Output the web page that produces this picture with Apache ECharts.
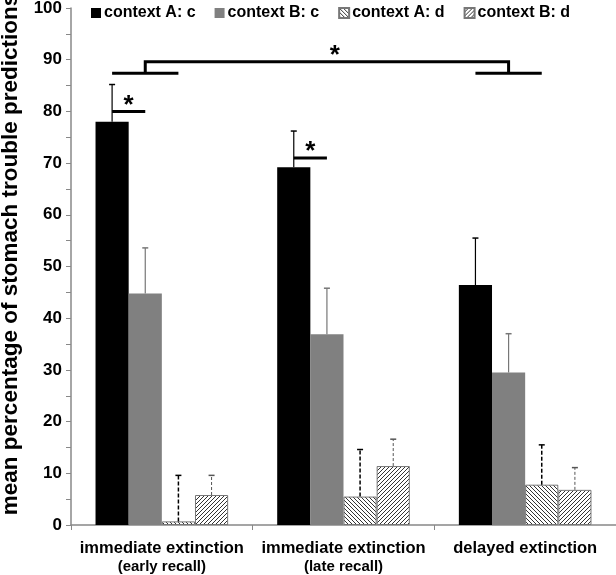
<!DOCTYPE html>
<html>
<head>
<meta charset="UTF-8">
<title>stomach trouble predictions</title>
<script src="https://cdn.jsdelivr.net/npm/echarts@6/dist/echarts.min.js"></script>
<style>
  html, body { margin: 0; padding: 0; background: #fff; }
  #main { width: 616px; height: 575px; }
</style>
</head>
<body>
<div id="main"></div>
<script type="text/javascript">
// --- data ---
var categories = ['immediate extinction', 'immediate extinction', 'delayed extinction'];
var subLabels = ['(early recall)', '(late recall)', ''];
var seriesNames = ['context A: c', 'context B: c', 'context A: d', 'context B: d'];
var meanAc = [78, 69.2, 46.4];
var meanBc = [44.8, 36.9, 29.5];
var meanAd = [0.7, 5.5, 7.8];
var meanBd = [5.8, 11.4, 6.8];
var topAc = [85.2, 76.2, 55.5];
var topBc = [53.6, 45.8, 37];
var topAd = [9.6, 14.6, 15.5];
var topBd = [9.6, 16.6, 11.1];
var yTicks = [0, 100, 10];
// significance: [category, value of line]
var pairSig = [[0, 80], [1, 71]];
// big bracket: [leftCat, rightCat, lowValue, topValue]
var bigSig = [0, 2, 87.4, 89.6];

var BAR_GAP = 0.27;

function hatch(dir) {
  var s = 4;
  var c = document.createElement('canvas');
  c.width = s; c.height = s;
  var ctx = c.getContext('2d');
  ctx.fillStyle = '#fff';
  ctx.fillRect(0, 0, s, s);
  ctx.strokeStyle = '#333';
  ctx.lineWidth = 1;
  ctx.beginPath();
  if (dir === 'back') {
    ctx.moveTo(-1, -1); ctx.lineTo(s + 1, s + 1);
    ctx.moveTo(-1, s - 1); ctx.lineTo(1, s + 1);
    ctx.moveTo(s - 1, -1); ctx.lineTo(s + 1, 1);
  } else {
    ctx.moveTo(-1, s + 1); ctx.lineTo(s + 1, -1);
    ctx.moveTo(-1, 1); ctx.lineTo(1, -1);
    ctx.moveTo(s - 1, s + 1); ctx.lineTo(s + 1, s - 1);
  }
  ctx.stroke();
  return { image: c, repeat: 'repeat' };
}

var means = [meanAc, meanBc, meanAd, meanBd];
var tops = [topAc, topBc, topAd, topBd];
var errData = [];
for (var s = 0; s < 4; s++) {
  for (var i = 0; i < categories.length; i++) {
    errData.push([i, s, means[s][i], tops[s][i]]);
  }
}
var errStyle = [
  { stroke: '#000', lineWidth: 1.2, lineDash: null },
  { stroke: '#777', lineWidth: 1.2, lineDash: null },
  { stroke: '#000', lineWidth: 1.5, lineDash: [4, 2] },
  { stroke: '#555', lineWidth: 1, lineDash: [3, 2] }
];

function barX(api, cat, idx) {
  var band = api.size([1, 0])[0];
  var bw = band * (1 - BAR_GAP) / 4;
  return api.coord([cat, 0])[0] + (idx - 1.5) * bw;
}

var starStyle = function (x, y) {
  return { type: 'text', x: x, y: y,
    style: { text: '*', fontSize: 26, fontWeight: 'bold', fill: '#000',
             align: 'center', verticalAlign: 'bottom',
             fontFamily: 'Liberation Sans, Arial, sans-serif' } };
};

var chart = echarts.init(document.getElementById('main'));
var fills = ['#000', '#808080', hatch('back'), hatch('fwd')];
var barSeries = seriesNames.map(function (n, k) {
  return {
    name: n,
    type: 'bar',
    data: means[k],
    barGap: '0%',
    barCategoryGap: (BAR_GAP * 100) + '%',
    itemStyle: {
      color: fills[k],
      borderColor: k > 1 ? '#777' : fills[k],
      borderWidth: k > 1 ? 1 : 0
    },
    z: 2
  };
});

var option = {
  animation: false,
  textStyle: { fontFamily: 'Liberation Sans, Arial, sans-serif' },
  legend: {
    data: seriesNames,
    left: 86,
    top: 0,
    itemGap: 19,
    itemWidth: 10,
    itemHeight: 10,
    icon: 'rect',
    textStyle: { fontSize: 16, fontWeight: 'bold', color: '#000', padding: [0, 0, 0, -2] }
  },
  grid: { left: 71, right: 0, top: 8, bottom: 50, outerBoundsMode: 'none' },
  xAxis: {
    type: 'category',
    data: categories,
    axisLine: { lineStyle: { color: '#888', width: 1.5 } },
    axisTick: { show: true, length: 5, lineStyle: { color: '#888' } },
    axisLabel: {
      margin: 13,
      formatter: function (v, idx) {
        return subLabels[idx] ? '{a|' + v + '}\n{b|' + subLabels[idx] + '}' : '{a|' + v + '}';
      },
      rich: {
        a: { fontSize: 16.5, fontWeight: 'bold', color: '#000', lineHeight: 20 },
        b: { fontSize: 15, fontWeight: 'bold', color: '#000', lineHeight: 18 }
      }
    }
  },
  yAxis: {
    type: 'value',
    min: yTicks[0],
    max: yTicks[1],
    interval: yTicks[2],
    name: 'mean percentage of stomach trouble predictions',
    nameLocation: 'middle',
    nameGap: 46,
    nameTextStyle: { fontSize: 22.5, fontWeight: 'bold', color: '#000', padding: [0, 0, 0, 24] },
    axisLine: { show: true, lineStyle: { color: '#888', width: 1.5 } },
    axisTick: { show: true, length: 5, lineStyle: { color: '#888' } },
    minorTick: { show: true, splitNumber: 2, length: 5, lineStyle: { color: '#888' } },
    splitLine: { show: false },
    axisLabel: { fontSize: 17, fontWeight: 'bold', color: '#000', margin: 9 }
  },
  series: barSeries.concat([
    {
      type: 'custom',
      name: 'errors',
      data: errData,
      encode: { x: 0, y: 3 },
      z: 5,
      renderItem: function (params, api) {
        var cat = api.value(0), k = api.value(1);
        var x = barX(api, cat, k);
        var y0 = api.coord([cat, api.value(2)])[1];
        var y1 = api.coord([cat, api.value(3)])[1];
        var st = errStyle[k];
        return {
          type: 'group',
          children: [
            { type: 'line', shape: { x1: x, y1: y0, x2: x, y2: y1 },
              style: { stroke: st.stroke, lineWidth: st.lineWidth, lineDash: st.lineDash } },
            { type: 'line', shape: { x1: x - 3, y1: y1, x2: x + 3, y2: y1 },
              style: { stroke: st.stroke, lineWidth: 1.5 } }
          ]
        };
      }
    },
    {
      type: 'custom',
      name: 'pairs',
      data: pairSig,
      encode: { x: 0, y: 1 },
      z: 6,
      renderItem: function (params, api) {
        var cat = api.value(0);
        var xa = barX(api, cat, 0), xb = barX(api, cat, 1);
        var y = api.coord([cat, api.value(1)])[1];
        return {
          type: 'group',
          children: [
            { type: 'line', shape: { x1: xa, y1: y, x2: xb, y2: y },
              style: { stroke: '#000', lineWidth: 3 } },
            starStyle((xa + xb) / 2, y + 7)
          ]
        };
      }
    },
    {
      type: 'custom',
      name: 'bracket',
      data: [bigSig],
      encode: { x: 0, y: 3 },
      z: 6,
      renderItem: function (params, api) {
        var c0 = api.value(0), c1 = api.value(1);
        var yl = api.coord([c0, api.value(2)])[1];
        var yt = api.coord([c0, api.value(3)])[1];
        var l0 = barX(api, c0, 0), l1 = barX(api, c0, 1), l2 = barX(api, c0, 2);
        var r0 = barX(api, c1, 0), r1 = barX(api, c1, 1), r2 = barX(api, c1, 2);
        var st = { stroke: '#000', lineWidth: 3 };
        return {
          type: 'group',
          children: [
            { type: 'line', shape: { x1: l0, y1: yl, x2: l2, y2: yl }, style: st },
            { type: 'line', shape: { x1: r0, y1: yl, x2: r2, y2: yl }, style: st },
            { type: 'polyline', shape: { points: [[l1, yl], [l1, yt], [r1, yt], [r1, yl]] },
              style: { stroke: '#000', lineWidth: 3, fill: null } },
            starStyle((l1 + r1) / 2 + 8, yt + 7)
          ]
        };
      }
    }
  ])
};
chart.setOption(option);
</script>
</body>
</html>
